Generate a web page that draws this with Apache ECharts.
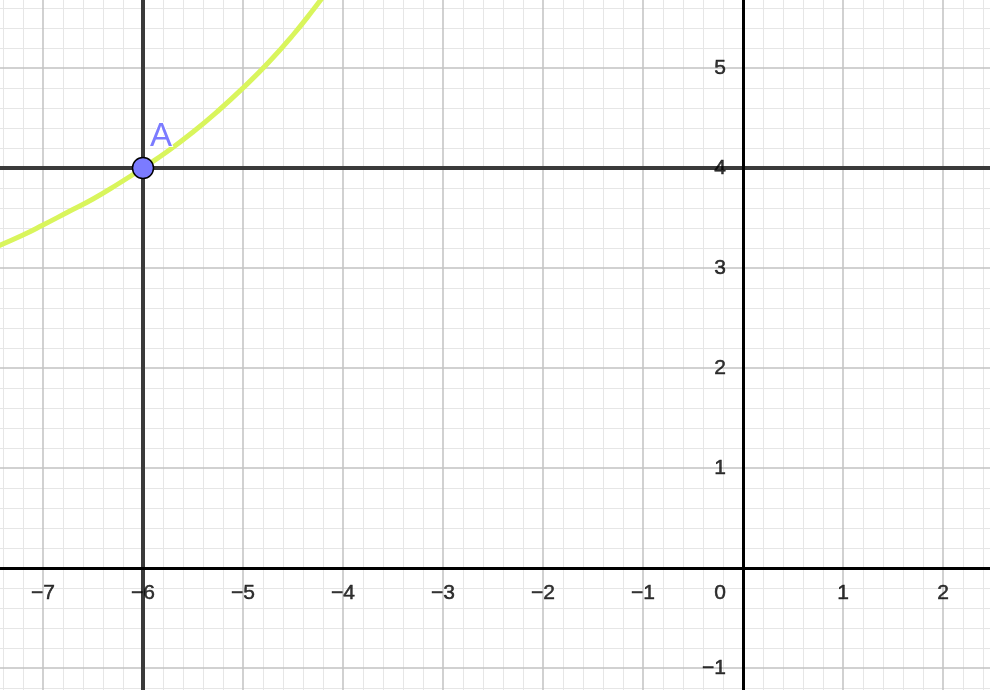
<!DOCTYPE html>
<html>
<head>
<meta charset="utf-8">
<script src="https://cdn.jsdelivr.net/npm/echarts@6/dist/echarts.min.js"></script>
<style>html,body{margin:0;padding:0;background:#fff;}#c{width:990px;height:690px;}</style>
</head>
<body>
<div id="c"></div>
<script>
// View window
const xRange = [-7.43, 2.47];
const yRange = [-1.22, 5.68];
// Tick labels
const xTickLabels = [-7, -6, -5, -4, -3, -2, -1, 1, 2];
const yTickLabels = [-1, 1, 2, 3, 4, 5];
const originLabel = '0';
// Curve points
const curveX = [-7.45, -7.2, -7.0, -6.75, -6.5, -6.25, -6.0, -5.75, -5.5, -5.25, -5.0, -4.75, -4.5, -4.3, -4.15];
const curveY = [3.22, 3.33, 3.43, 3.56, 3.69, 3.84, 4.00, 4.17, 4.36, 4.57, 4.80, 5.05, 5.33, 5.58, 5.78];
// Point A
const pointA = [-6, 4];
const pointLabel = 'A';

const minus = v => (v < 0 ? '\u2212' + Math.abs(v) : String(v));

// grid line values
const majorX = [], majorY = [], minorX = [], minorY = [];
for (let i = Math.ceil(xRange[0] * 5); i <= Math.floor(xRange[1] * 5); i++) {
  const v = +(i / 5).toFixed(2);
  if (i % 5 === 0) majorX.push(v); else minorX.push(v);
}
for (let i = Math.ceil(yRange[0] * 5); i <= Math.floor(yRange[1] * 5); i++) {
  const v = +(i / 5).toFixed(2);
  if (i % 5 === 0) majorY.push(v); else minorY.push(v);
}

const gridLineSeries = (xs, ys, color, width, z) => ({
  type: 'line', data: [], silent: true, z: z, animation: false,
  markLine: {
    silent: true, symbol: 'none', animation: false,
    label: { show: false },
    lineStyle: { color: color, width: width, type: 'solid' },
    emphasis: { disabled: true },
    data: xs.map(v => ({ xAxis: v })).concat(ys.map(v => ({ yAxis: v })))
  }
});

const font = '"Liberation Sans", Arial, Helvetica, sans-serif';
const labelSeries = (data, names, label, z) => ({
  type: 'scatter', z: z, symbolSize: 1, silent: true,
  itemStyle: { color: 'rgba(0,0,0,0)' },
  emphasis: { disabled: true },
  data: data.map((d, i) => ({ value: d, name: names[i] })),
  label: Object.assign({ show: true, position: 'inside', formatter: p => p.name,
    color: '#000', fontFamily: font, fontSize: 21,
    textBorderColor: '#000', textBorderWidth: 0.5 }, label)
});

const chart = echarts.init(document.getElementById('c'), null, { renderer: 'canvas' });

chart.setOption({
  animation: false,
  backgroundColor: '#ffffff',
  grid: { left: 0, right: 0, top: 0, bottom: 0, containLabel: false, outerBoundsMode: 'none' },
  xAxis: {
    type: 'value', min: xRange[0], max: xRange[1], z: 6,
    axisLine: { onZero: true, lineStyle: { color: '#000', width: 3 } },
    axisTick: { show: false },
    splitLine: { show: false },
    axisLabel: { show: false }
  },
  yAxis: {
    type: 'value', min: yRange[0], max: yRange[1], z: 6,
    axisLine: { onZero: true, lineStyle: { color: '#000', width: 3 } },
    axisTick: { show: false },
    splitLine: { show: false },
    axisLabel: { show: false }
  },
  series: [
    gridLineSeries(minorX, minorY, '#e6e6e6', 1, 1),
    gridLineSeries(majorX, majorY, '#c2c2c2', 1.5, 2),
    gridLineSeries([pointA[0]], [pointA[1]], '#3a3a3a', 4, 3),
    {
      type: 'line', smooth: 0.5, symbol: 'none', z: 7, clip: true,
      data: curveX.map((x, i) => [x, curveY[i]]),
      lineStyle: { color: '#d9f55c', width: 5 }
    },
    labelSeries(xTickLabels.map(v => [v, 0]), xTickLabels.map(minus),
      { align: 'center', verticalAlign: 'middle', offset: [0, 25] }, 8),
    labelSeries(yTickLabels.map(v => [0, v]), yTickLabels.map(minus),
      { align: 'right', verticalAlign: 'middle', offset: [-17, 0] }, 8),
    labelSeries([[0, 0]], [originLabel],
      { align: 'center', verticalAlign: 'middle', offset: [-23, 25] }, 8),
    {
      type: 'scatter', z: 9, symbolSize: 21,
      data: [pointA],
      itemStyle: { color: '#7b7bff', borderColor: '#000', borderWidth: 1.5, opacity: 1 },
      label: { show: true, formatter: pointLabel, color: '#7b7bff', fontSize: 33, fontFamily: font,
        textBorderColor: '#fff', textBorderWidth: 2,
        position: 'inside', align: 'center', verticalAlign: 'middle', offset: [18, -31] }
    }
  ]
});
</script>
</body>
</html>
